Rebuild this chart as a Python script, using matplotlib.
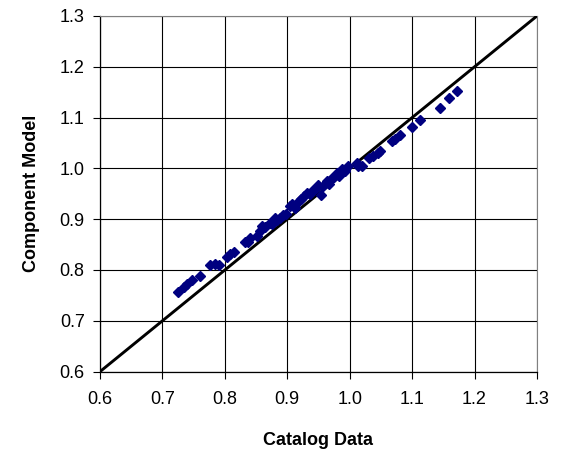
import matplotlib
matplotlib.use("Agg")
import matplotlib.pyplot as plt
import numpy as np

# catalog vs component model values
catalog = [0.725, 0.734, 0.740, 0.748, 0.760, 0.776, 0.784, 0.790, 0.803, 0.808,
           0.814, 0.832, 0.837, 0.840, 0.851, 0.856, 0.859, 0.865, 0.872, 0.876,
           0.880, 0.884, 0.888, 0.893, 0.898, 0.904, 0.907, 0.912, 0.918, 0.922,
           0.926, 0.931, 0.936, 0.942, 0.946, 0.950, 0.954, 0.958, 0.963, 0.967,
           0.971, 0.975, 0.979, 0.983, 0.987, 0.992, 0.998, 1.011, 1.013, 1.019,
           1.031, 1.037, 1.045, 1.049, 1.067, 1.072, 1.081, 1.100, 1.113, 1.145,
           1.159, 1.172]
model = [0.757, 0.766, 0.772, 0.781, 0.789, 0.809, 0.812, 0.810, 0.825, 0.832,
         0.836, 0.856, 0.855, 0.862, 0.866, 0.876, 0.886, 0.884, 0.892, 0.890,
         0.902, 0.898, 0.903, 0.908, 0.910, 0.926, 0.929, 0.922, 0.935, 0.939,
         0.945, 0.952, 0.950, 0.958, 0.961, 0.968, 0.948, 0.966, 0.975, 0.970,
         0.981, 0.984, 0.991, 0.986, 0.999, 0.995, 1.004, 1.011, 1.004, 1.004,
         1.020, 1.024, 1.030, 1.034, 1.053, 1.058, 1.065, 1.082, 1.096, 1.119,
         1.139, 1.153]
ticks = [0.6, 0.7, 0.8, 0.9, 1.0, 1.1, 1.2, 1.3]

plt.rcParams['font.family'] = ['Liberation Sans', 'DejaVu Sans']

fig = plt.figure(figsize=(5.67, 4.53), dpi=100)
ax = fig.add_axes([0.1764, 0.1797, 0.7706, 0.785])

ax.plot([ticks[0], ticks[-1]], [ticks[0], ticks[-1]], color='black', lw=2.1, zorder=3)
ax.plot(catalog, model, linestyle='none', marker='D', ms=5.2,
        color='#000080', markeredgecolor='#000080', zorder=4)

ax.set_xlim(ticks[0], ticks[-1])
ax.set_ylim(ticks[0], ticks[-1])
ax.set_xticks(ticks)
ax.set_yticks(ticks)
ax.set_xticklabels([f"{t:.1f}" for t in ticks])
ax.set_yticklabels([f"{t:.1f}" for t in ticks])
ax.grid(True, color='black', lw=0.8)
ax.set_axisbelow(True)

for s in ['top', 'right']:
    ax.spines[s].set_color('#808080')
    ax.spines[s].set_linewidth(0.8)
for s in ['left', 'bottom']:
    ax.spines[s].set_color('black')
    ax.spines[s].set_linewidth(0.9)

ax.tick_params(direction='out', length=5, width=0.8, labelsize=13)
ax.tick_params(axis='x', pad=9)
ax.tick_params(axis='y', pad=6)
ax.set_xlabel('Catalog Data', fontsize=13, fontweight='bold', labelpad=17)
ax.set_ylabel('Component Model', fontsize=13, fontweight='bold', labelpad=14)

fig.savefig('out.png', dpi=100)
